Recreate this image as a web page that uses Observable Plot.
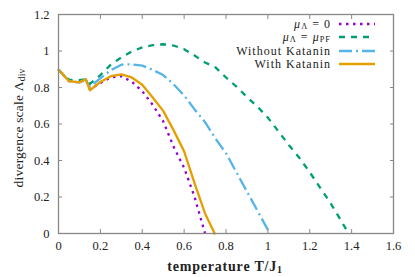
<!DOCTYPE html>
<html><head><meta charset="utf-8">
<script src="https://cdn.jsdelivr.net/npm/d3@7"></script>
<script src="https://cdn.jsdelivr.net/npm/@observablehq/plot@0.6"></script>
<style>
body{margin:0;background:#fff;}
#wrap{position:relative;width:415px;height:277px;font-family:"Liberation Serif","Times New Roman",serif;color:#222;}
.lab{position:absolute;white-space:nowrap;line-height:1;font-family:"Liberation Serif","Times New Roman",serif;}
sub{font-size:70%;line-height:0;vertical-align:baseline;position:relative;top:0.25em;}
.leg sub{top:0.15em;}
svg text{font-family:"Liberation Serif","Times New Roman",serif !important;}
</style></head><body><div id="wrap"></div>
<script>
// Series data (temperature T/J1, divergence scale)
const T_mu0 = [0, 0.05, 0.1, 0.13, 0.15, 0.2, 0.25, 0.3, 0.35, 0.4, 0.45, 0.5, 0.55, 0.6, 0.65, 0.7];
const V_mu0 = [0.897, 0.835, 0.828, 0.845, 0.79, 0.825, 0.855, 0.862, 0.832, 0.78, 0.705, 0.615, 0.475, 0.36, 0.2, 0.0];

const T_pf = [0, 0.05, 0.1, 0.13, 0.15, 0.2, 0.25, 0.3, 0.35, 0.4, 0.45, 0.5, 0.55, 0.6, 0.65, 0.7, 0.75, 0.8, 0.85, 0.9, 0.95, 1.0, 1.05, 1.1, 1.15, 1.2, 1.25, 1.3, 1.35, 1.385];
const V_pf = [0.897, 0.843, 0.84, 0.845, 0.82, 0.868, 0.925, 0.965, 0.997, 1.02, 1.032, 1.037, 1.03, 1.01, 0.975, 0.937, 0.91, 0.855, 0.805, 0.748, 0.695, 0.635, 0.56, 0.485, 0.415, 0.336, 0.25, 0.165, 0.07, 0.0];

const T_nok = [0, 0.05, 0.1, 0.13, 0.15, 0.2, 0.25, 0.3, 0.35, 0.4, 0.45, 0.5, 0.55, 0.6, 0.65, 0.7, 0.75, 0.8, 0.85, 0.9, 0.95, 1.0, 1.01];
const V_nok = [0.897, 0.835, 0.828, 0.845, 0.805, 0.85, 0.895, 0.925, 0.927, 0.92, 0.897, 0.868, 0.818, 0.756, 0.68, 0.61, 0.52, 0.44, 0.335, 0.23, 0.125, 0.02, 0.0];

const T_k = [0, 0.05, 0.1, 0.13, 0.15, 0.2, 0.25, 0.3, 0.35, 0.4, 0.45, 0.5, 0.55, 0.6, 0.65, 0.7, 0.746];
const V_k = [0.897, 0.835, 0.828, 0.845, 0.785, 0.83, 0.862, 0.872, 0.855, 0.815, 0.745, 0.672, 0.565, 0.45, 0.275, 0.11, 0.0];

const seriesLabels = ["<i>μ</i><sub>Λ</sub> = 0", "<i>μ</i><sub>Λ</sub> = <i>μ</i><sub>PF</sub>", "Without Katanin", "With Katanin"];
const seriesColors = ["#9400d3", "#009e73", "#56b4e9", "#e69f00"];
const seriesDash = ["2.5,4.5", "6,6", "13,4,2,4", null];
const seriesT = [T_mu0, T_pf, T_nok, T_k];
const seriesV = [V_mu0, V_pf, V_nok, V_k];

const xTicks = [0, 0.2, 0.4, 0.6, 0.8, 1, 1.2, 1.4, 1.6];
const yTicks = [0, 0.2, 0.4, 0.6, 0.8, 1, 1.2];
const xTitle = "temperature T/J<sub>1</sub>";
const yTitle = "divergence scale Λ<sub>div</sub>";

const fmt = d => String(+(+d).toFixed(1));
const lines = seriesT.map((T, i) => Plot.line(T.map((t, j) => ({T: t, v: seriesV[i][j]})), {
  x: "T", y: "v", stroke: seriesColors[i], strokeWidth: 2.3,
  strokeDasharray: seriesDash[i] || undefined, strokeLinejoin: "round", strokeLinecap: seriesDash[i] ? "butt" : "round"
}));

const chart = Plot.plot({
  width: 415, height: 277,
  marginLeft: 58, marginRight: 22, marginTop: 14, marginBottom: 44,
  style: {fontFamily: "'Liberation Serif', serif", fontSize: "12.5px", color: "#222", background: "#fff"},
  x: {domain: [0, 1.6]},
  y: {domain: [0, 1.2]},
  marks: [
    ...lines,
    Plot.frame({stroke: "#888", strokeWidth: 1.3}),
    Plot.axisX({anchor: "bottom", ticks: xTicks, tickSize: -4, tickPadding: 12, tickFormat: fmt, label: null, stroke: "#888", fill: "#222", fontSize: 12.5}),
    Plot.axisX({anchor: "top", ticks: xTicks, tickSize: -4, tickFormat: () => "", label: null, stroke: "#888"}),
    Plot.axisY({anchor: "left", ticks: yTicks, tickSize: -4, tickPadding: 13, tickFormat: fmt, label: null, stroke: "#888", fill: "#222", fontSize: 12.5}),
    Plot.axisY({anchor: "right", ticks: yTicks, tickSize: -4, tickFormat: () => "", label: null, stroke: "#888"})
  ]
});
const wrap = document.getElementById("wrap");
wrap.appendChild(chart);

// axis titles
const xt = document.createElement("div");
xt.className = "lab";
xt.style.left = "225px"; xt.style.top = "267px";
xt.style.transform = "translate(-50%,-50%)";
xt.style.fontWeight = "bold"; xt.style.fontSize = "14px"; xt.style.letterSpacing = "0.8px";
xt.innerHTML = xTitle;
wrap.appendChild(xt);
const yt = document.createElement("div");
yt.className = "lab";
yt.style.left = "19px"; yt.style.top = "128px";
yt.style.transform = "translate(-50%,-50%) rotate(-90deg)";
yt.style.fontSize = "13.5px"; yt.style.letterSpacing = "0.2px";
yt.innerHTML = yTitle;
wrap.appendChild(yt);

// legend
const rowY = [23.5, 37, 50.5, 64];
seriesLabels.forEach((lab, i) => {
  const t = document.createElement("div");
  t.className = "lab leg";
  t.style.right = (415 - 331) + "px"; t.style.top = rowY[i] + "px";
  t.style.transform = "translateY(-50%)";
  t.style.fontSize = "12px"; t.style.lineHeight = "12px"; t.style.letterSpacing = "1px";
  t.innerHTML = lab;
  wrap.appendChild(t);
  const s = document.createElementNS("http://www.w3.org/2000/svg", "svg");
  s.setAttribute("width", 38); s.setAttribute("height", 6);
  s.style.cssText = `position:absolute;left:338px;top:${rowY[i] - 3}px;`;
  const l = document.createElementNS("http://www.w3.org/2000/svg", "line");
  l.setAttribute("x1", 1); l.setAttribute("x2", 37); l.setAttribute("y1", 3); l.setAttribute("y2", 3);
  l.setAttribute("stroke", seriesColors[i]); l.setAttribute("stroke-width", 2.3);
  if (seriesDash[i]) l.setAttribute("stroke-dasharray", seriesDash[i]);
  s.appendChild(l);
  wrap.appendChild(s);
});
</script></body></html>
